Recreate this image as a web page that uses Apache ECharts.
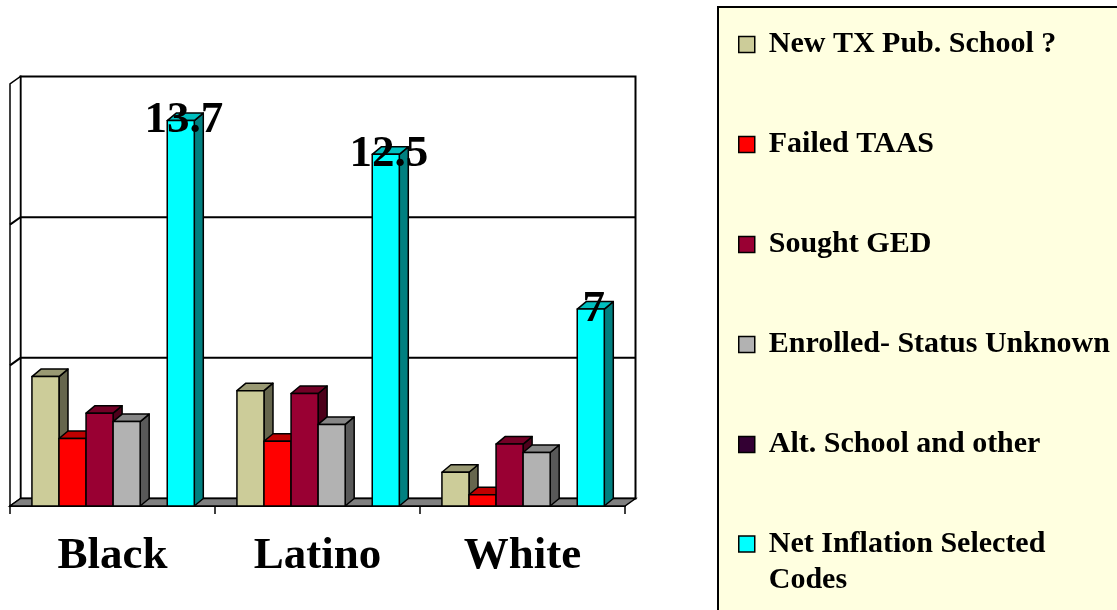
<!DOCTYPE html>
<html>
<head>
<meta charset="utf-8">
<script src="https://cdn.jsdelivr.net/npm/echarts@6/dist/echarts.min.js"></script>
<style>
  html, body { margin: 0; padding: 0; background: #ffffff; }
  #chart { width: 1117px; height: 610px; }
</style>
</head>
<body>
<div id="chart"></div>
<script>
// Groups along the x axis
const categories = ['Black', 'Latino', 'White'];

// Series names (legend order = bar order inside each group)
const seriesNames = [
  'New TX Pub. School ?',
  'Failed TAAS',
  'Sought GED',
  'Enrolled- Status Unknown',
  'Alt. School and other',
  'Net Inflation Selected Codes'
];

// Values per group (Black, Latino, White)
const newTxPubSchool        = [4.6, 4.1, 1.2];
const failedTaas            = [2.4, 2.3, 0.4];
const soughtGed             = [3.3, 4.0, 2.2];
const enrolledStatusUnknown = [3.0, 2.9, 1.9];
const altSchoolOther        = [0, 0, 0];
const netInflation          = [13.7, 12.5, 7];

// Value-axis ticks (drawn as gridlines on the back wall)
const valueTicks = [0, 5, 10, 15];

const seriesValues = [newTxPubSchool, failedTaas, soughtGed, enrolledStatusUnknown, altSchoolOther, netInflation];
const seriesColors = ['#CCCC99', '#FF0000', '#990033', '#B2B2B2', '#330033', '#00FFFF'];
const labelledSeries = 5; // the net-inflation bars carry value labels

const SERIF = '"Liberation Serif", "Times New Roman", serif';

// 3-D look: depth offset of the walls and of each column
const WALL_DX = 10.5, WALL_DY = -7.5;
const BAR_DX = 9, BAR_DY = -7.5;
const BAR_FRACTION = 0.132;   // column width as share of a category band
const OUTER_FRACTION = 0.107; // gap before the first column in a band
const EDGE = { stroke: '#000', lineWidth: 1.5, lineJoin: 'round' };

function shade(hex, f) {
  const n = parseInt(hex.slice(1), 16);
  const r = Math.round(((n >> 16) & 255) * f);
  const g = Math.round(((n >> 8) & 255) * f);
  const b = Math.round((n & 255) * f);
  return 'rgb(' + r + ',' + g + ',' + b + ')';
}

// Back wall, left wall, floor and gridlines
function renderWalls(params, api) {
  const band = api.size([1, 0])[0];
  const last = categories.length - 1;
  const vMax = valueTicks[valueTicks.length - 1];
  const xL = api.coord([0, 0])[0] - band / 2;
  const xR = api.coord([last, 0])[0] + band / 2;
  const y0 = api.coord([0, 0])[1];
  const yTop = api.coord([0, vMax])[1];
  const children = [];
  // back wall
  children.push({
    type: 'rect',
    shape: { x: xL + WALL_DX, y: yTop + WALL_DY, width: xR - xL, height: y0 - yTop },
    style: { fill: '#ffffff', stroke: '#000', lineWidth: 2 }
  });
  // left side wall
  children.push({
    type: 'polygon',
    shape: { points: [[xL, y0], [xL + WALL_DX, y0 + WALL_DY], [xL + WALL_DX, yTop + WALL_DY], [xL, yTop]] },
    style: { fill: '#ffffff', stroke: '#000', lineWidth: 1.5 }
  });
  // gridlines on back wall and left wall
  valueTicks.slice(1, -1).forEach(function (t) {
    const y = api.coord([0, t])[1];
    children.push({
      type: 'polyline',
      shape: { points: [[xL, y], [xL + WALL_DX, y + WALL_DY], [xR + WALL_DX, y + WALL_DY]] },
      style: { fill: null, stroke: '#000', lineWidth: 2 }
    });
  });
  // floor
  children.push({
    type: 'polygon',
    shape: { points: [[xL, y0], [xR, y0], [xR + WALL_DX, y0 + WALL_DY], [xL + WALL_DX, y0 + WALL_DY]] },
    style: { fill: '#808080', stroke: '#000', lineWidth: 1.5 }
  });
  return { type: 'group', children: children };
}

// One 3-D column: front face, right side and top
function makeBarRenderer(k, color) {
  const topColor = shade(color, 0.75);
  const sideColor = shade(color, 0.5);
  return function (params, api) {
    const v = api.value(1);
    if (!(v > 0)) return null;
    const band = api.size([1, 0])[0];
    const base = api.coord([api.value(0), 0]);
    const head = api.coord([api.value(0), v]);
    const barW = band * BAR_FRACTION;
    const x0 = base[0] - band / 2 + band * OUTER_FRACTION + k * barW;
    const x1 = x0 + barW;
    const yb = base[1], yt = head[1];
    const children = [
      {
        type: 'polygon',
        shape: { points: [[x1, yb], [x1 + BAR_DX, yb + BAR_DY], [x1 + BAR_DX, yt + BAR_DY], [x1, yt]] },
        style: Object.assign({ fill: sideColor }, EDGE)
      },
      {
        type: 'polygon',
        shape: { points: [[x0, yt], [x0 + BAR_DX, yt + BAR_DY], [x1 + BAR_DX, yt + BAR_DY], [x1, yt]] },
        style: Object.assign({ fill: topColor }, EDGE)
      },
      {
        type: 'rect',
        shape: { x: x0, y: yt, width: barW, height: yb - yt },
        style: Object.assign({ fill: color }, EDGE)
      }
    ];
    if (k === labelledSeries) {
      children.push({
        type: 'text',
        x: (x0 + x1) / 2 + 3,
        y: yt,
        z2: 10,
        style: {
          text: String(v),
          fill: '#000',
          fontFamily: SERIF,
          fontWeight: 'bold',
          fontSize: 45,
          align: 'center',
          verticalAlign: 'middle'
        }
      });
    }
    return { type: 'group', children: children };
  };
}

const chart = echarts.init(document.getElementById('chart'), null, { renderer: 'canvas' });

const series = [{
  type: 'custom',
  name: '__walls',
  z: 1,
  silent: true,
  renderItem: renderWalls,
  encode: { x: 0, y: 1 },
  data: [[0, 0]]
}];

seriesNames.forEach(function (name, k) {
  series.push({
    type: 'custom',
    name: name,
    z: 2,
    renderItem: makeBarRenderer(k, seriesColors[k]),
    encode: { x: 0, y: 1 },
    itemStyle: { color: seriesColors[k] },
    data: seriesValues[k].map(function (v, i) { return [i, v]; })
  });
});

const legendText = {
  color: '#000',
  fontFamily: SERIF,
  fontWeight: 'bold',
  fontSize: 30,
  lineHeight: 37,
  padding: [0, 0, 0, 9]
};
const lastName = seriesNames[seriesNames.length - 1];

chart.setOption({
  animation: false,
  backgroundColor: '#ffffff',
  grid: { left: 10, right: 492, top: 84, bottom: 104, containLabel: false },
  xAxis: {
    type: 'category',
    data: categories,
    axisLine: { show: true, lineStyle: { color: '#000', width: 2 } },
    axisTick: { show: true, length: 8, lineStyle: { color: '#000', width: 1.5 } },
    axisLabel: {
      margin: 28,
      color: '#000',
      fontFamily: SERIF,
      fontWeight: 'bold',
      fontSize: 45
    },
    splitLine: { show: false }
  },
  yAxis: {
    type: 'value',
    min: valueTicks[0],
    max: valueTicks[valueTicks.length - 1],
    interval: valueTicks[1] - valueTicks[0],
    show: false,
    splitLine: { show: false }
  },
  legend: [
    {
      // boxed legend: first five entries; box runs past the bottom edge
      orient: 'vertical',
      left: 718,
      top: 7,
      height: 1000,
      padding: [19, 40, 200, 20],
      itemGap: 63,
      itemWidth: 16,
      itemHeight: 16,
      icon: 'rect',
      selectedMode: false,
      backgroundColor: '#FFFFE0',
      borderColor: '#000',
      borderWidth: 2,
      itemStyle: { borderColor: '#000', borderWidth: 1.5 },
      textStyle: legendText,
      data: seriesNames.slice(0, -1)
    },
    {
      // last entry wraps onto two lines, marker beside the first line
      orient: 'vertical',
      left: 738,
      top: 490,
      padding: 0,
      z: 5,
      itemWidth: 16,
      itemHeight: 16,
      icon: 'rect',
      selectedMode: false,
      itemStyle: { borderColor: '#000', borderWidth: 1.5 },
      textStyle: Object.assign({}, legendText, { lineHeight: 36 }),
      formatter: function () { return '\nNet Inflation Selected\nCodes'; },
      data: [lastName]
    }
  ],
  series: series
});
</script>
</body>
</html>
